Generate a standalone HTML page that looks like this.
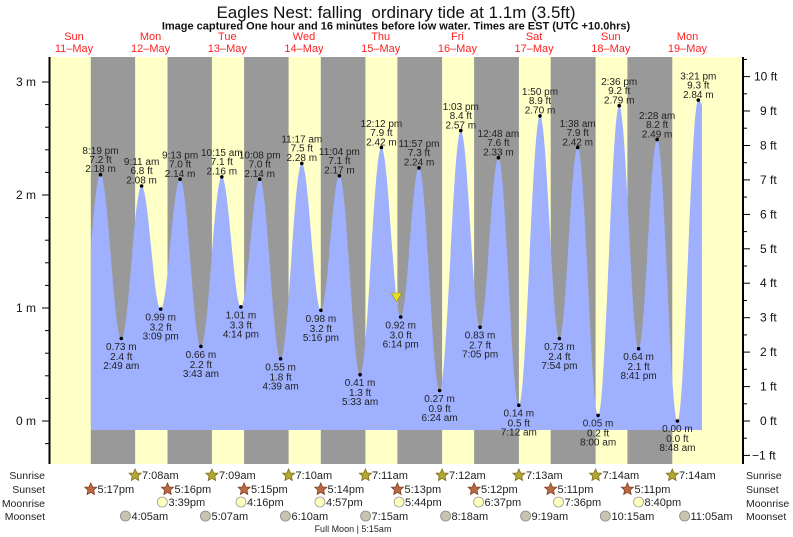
<!DOCTYPE html>
<html><head><meta charset="utf-8"><style>
html,body{margin:0;padding:0;background:#fff;}
svg{display:block;font-family:"Liberation Sans",sans-serif;}
.l{font-size:10px;fill:#222;text-anchor:middle}
.d{font-size:11px;fill:#ff2020;text-anchor:middle}
.a{font-size:12px;fill:#111}
.b{font-size:11px;fill:#222}
.r{font-size:10.5px;fill:#222}
</style></head><body>
<svg width="793" height="537" viewBox="0 0 793 537" xmlns="http://www.w3.org/2000/svg">
<rect width="793" height="537" fill="#fff"/>
<text x="396" y="18" text-anchor="middle" xml:space="preserve" style="font-size:17px;fill:#111">Eagles Nest: falling  ordinary tide at 1.1m (3.5ft)</text>
<text x="396" y="29.5" text-anchor="middle" style="font-size:11px;font-weight:bold;fill:#111">Image captured One hour and 16 minutes before low water. Times are EST (UTC +10.0hrs)</text>
<text class="d" x="74" y="40">Sun</text><text class="d" x="74" y="52">11–May</text>
<text class="d" x="150.6" y="40">Mon</text><text class="d" x="150.6" y="52">12–May</text>
<text class="d" x="227.3" y="40">Tue</text><text class="d" x="227.3" y="52">13–May</text>
<text class="d" x="304" y="40">Wed</text><text class="d" x="304" y="52">14–May</text>
<text class="d" x="380.7" y="40">Thu</text><text class="d" x="380.7" y="52">15–May</text>
<text class="d" x="457.4" y="40">Fri</text><text class="d" x="457.4" y="52">16–May</text>
<text class="d" x="534.1" y="40">Sat</text><text class="d" x="534.1" y="52">17–May</text>
<text class="d" x="610.8" y="40">Sun</text><text class="d" x="610.8" y="52">18–May</text>
<text class="d" x="687.5" y="40">Mon</text><text class="d" x="687.5" y="52">19–May</text>
<rect x="50" y="57" width="693" height="407" fill="#ffffc8"/>
<g fill="#999">
<rect x="90.8" y="57" width="44.3" height="407"/>
<rect x="167.5" y="57" width="44.4" height="407"/>
<rect x="244.1" y="57" width="44.5" height="407"/>
<rect x="320.8" y="57" width="44.6" height="407"/>
<rect x="397.4" y="57" width="44.7" height="407"/>
<rect x="474.1" y="57" width="44.8" height="407"/>
<rect x="550.7" y="57" width="44.9" height="407"/>
<rect x="627.4" y="57" width="44.9" height="407"/>
</g>
<path fill="#9fb0ff" d="M91,247 C94.5,205 96.9,174.7 100.5,174.7
C108,174.7 113.7,338.5 121.3,338.5
C128.7,338.5 134.2,186 141.6,186
C148.6,186 153.7,309.1 160.7,309.1
C167.8,309.1 173,179.2 180.1,179.2
C187.7,179.2 193.3,346.4 200.9,346.4
C208.5,346.4 214.2,176.9 221.8,176.9
C228.8,176.9 233.9,306.9 240.9,306.9
C247.7,306.9 252.9,179.2 259.7,179.2
C267.3,179.2 273,358.8 280.6,358.8
C288.3,358.8 294.1,163.4 301.8,163.4
C308.8,163.4 313.9,310.3 320.9,310.3
C327.6,310.3 332.7,175.8 339.4,175.8
C347,175.8 352.6,374.7 360.1,374.7
C367.9,374.7 373.6,147.5 381.4,147.5
C388.4,147.5 393.7,317 400.7,317
C407.4,317 412.3,167.9 419,167.9
C426.5,167.9 432.1,390.5 439.6,390.5
C447.3,390.5 453.1,130.6 460.8,130.6
C467.8,130.6 473.1,327.2 480.1,327.2
C486.8,327.2 491.7,157.7 498.4,157.7
C505.8,157.7 511.4,405.2 518.8,405.2
C526.5,405.2 532.3,115.9 540,115.9
C547.1,115.9 552.3,338.5 559.4,338.5
C566.1,338.5 571,147.5 577.7,147.5
C585.1,147.5 590.7,415.4 598.1,415.4
C605.8,415.4 611.5,105.7 619.2,105.7
C626.3,105.7 631.5,348.7 638.6,348.7
C645.3,348.7 650.4,139.6 657.1,139.6
C664.5,139.6 670,421 677.4,421
C685,421 690.7,100.1 698.3,100.1
C699.8,100.1 700.8,102 702,105
L702,430 L91,430 Z"/>
<g fill="#000">
<circle cx="100.5" cy="174.7" r="1.8"/><circle cx="121.3" cy="338.5" r="1.8"/><circle cx="141.6" cy="186" r="1.8"/><circle cx="160.7" cy="309.1" r="1.8"/><circle cx="180.1" cy="179.2" r="1.8"/><circle cx="200.9" cy="346.4" r="1.8"/><circle cx="221.8" cy="176.9" r="1.8"/><circle cx="240.9" cy="306.9" r="1.8"/><circle cx="259.7" cy="179.2" r="1.8"/><circle cx="280.6" cy="358.8" r="1.8"/><circle cx="301.8" cy="163.4" r="1.8"/><circle cx="320.9" cy="310.3" r="1.8"/><circle cx="339.4" cy="175.8" r="1.8"/><circle cx="360.1" cy="374.7" r="1.8"/><circle cx="381.4" cy="147.5" r="1.8"/><circle cx="400.7" cy="317" r="1.8"/><circle cx="419" cy="167.9" r="1.8"/><circle cx="439.6" cy="390.5" r="1.8"/><circle cx="460.8" cy="130.6" r="1.8"/><circle cx="480.1" cy="327.2" r="1.8"/><circle cx="498.4" cy="157.7" r="1.8"/><circle cx="518.8" cy="405.2" r="1.8"/><circle cx="540" cy="115.9" r="1.8"/><circle cx="559.4" cy="338.5" r="1.8"/><circle cx="577.7" cy="147.5" r="1.8"/><circle cx="598.1" cy="415.4" r="1.8"/><circle cx="619.2" cy="105.7" r="1.8"/><circle cx="638.6" cy="348.7" r="1.8"/><circle cx="657.1" cy="139.6" r="1.8"/><circle cx="677.4" cy="421" r="1.8"/><circle cx="698.3" cy="100.1" r="1.8"/>
</g>
<polygon points="391.5,293 401.5,293 396.5,302" fill="#e8e020" stroke="#a09010" stroke-width="0.6"/>
<g class="l">
<text x="100.5" y="154">8:19 pm</text><text x="100.5" y="163">7.2 ft</text><text x="100.5" y="172">2.18 m</text>
<text x="141.6" y="165">9:11 am</text><text x="141.6" y="174">6.8 ft</text><text x="141.6" y="183.5">2.08 m</text>
<text x="180.1" y="158.5">9:13 pm</text><text x="180.1" y="167.5">7.0 ft</text><text x="180.1" y="177">2.14 m</text>
<text x="221.8" y="156">10:15 am</text><text x="221.8" y="165">7.1 ft</text><text x="221.8" y="174.5">2.16 m</text>
<text x="259.7" y="158.5">10:08 pm</text><text x="259.7" y="167.5">7.0 ft</text><text x="259.7" y="177">2.14 m</text>
<text x="301.8" y="142.5">11:17 am</text><text x="301.8" y="151.5">7.5 ft</text><text x="301.8" y="161">2.28 m</text>
<text x="339.4" y="155">11:04 pm</text><text x="339.4" y="164">7.1 ft</text><text x="339.4" y="173.5">2.17 m</text>
<text x="381.4" y="127">12:12 pm</text><text x="381.4" y="136">7.9 ft</text><text x="381.4" y="145.5">2.42 m</text>
<text x="419" y="147">11:57 pm</text><text x="419" y="156">7.3 ft</text><text x="419" y="165.5">2.24 m</text>
<text x="460.8" y="110">1:03 pm</text><text x="460.8" y="119">8.4 ft</text><text x="460.8" y="128.5">2.57 m</text>
<text x="498.4" y="137">12:48 am</text><text x="498.4" y="146">7.6 ft</text><text x="498.4" y="155.5">2.33 m</text>
<text x="540" y="95">1:50 pm</text><text x="540" y="104">8.9 ft</text><text x="540" y="113.5">2.70 m</text>
<text x="577.7" y="127">1:38 am</text><text x="577.7" y="136">7.9 ft</text><text x="577.7" y="145.5">2.42 m</text>
<text x="619.2" y="85">2:36 pm</text><text x="619.2" y="94">9.2 ft</text><text x="619.2" y="103.5">2.79 m</text>
<text x="657.1" y="119">2:28 am</text><text x="657.1" y="128">8.2 ft</text><text x="657.1" y="137.5">2.49 m</text>
<text x="698.3" y="79.5">3:21 pm</text><text x="698.3" y="88.5">9.3 ft</text><text x="698.3" y="98">2.84 m</text>
</g>
<g class="l">
<text x="121.3" y="350">0.73 m</text><text x="121.3" y="360">2.4 ft</text><text x="121.3" y="369">2:49 am</text>
<text x="160.7" y="320.5">0.99 m</text><text x="160.7" y="330.5">3.2 ft</text><text x="160.7" y="339.5">3:09 pm</text>
<text x="200.9" y="358">0.66 m</text><text x="200.9" y="368">2.2 ft</text><text x="200.9" y="377">3:43 am</text>
<text x="240.9" y="318.5">1.01 m</text><text x="240.9" y="328.5">3.3 ft</text><text x="240.9" y="337.5">4:14 pm</text>
<text x="280.6" y="370.5">0.55 m</text><text x="280.6" y="380.5">1.8 ft</text><text x="280.6" y="389.5">4:39 am</text>
<text x="320.9" y="322">0.98 m</text><text x="320.9" y="332">3.2 ft</text><text x="320.9" y="341">5:16 pm</text>
<text x="360.1" y="386">0.41 m</text><text x="360.1" y="396">1.3 ft</text><text x="360.1" y="405">5:33 am</text>
<text x="400.7" y="328.5">0.92 m</text><text x="400.7" y="338.5">3.0 ft</text><text x="400.7" y="347.5">6:14 pm</text>
<text x="439.6" y="402">0.27 m</text><text x="439.6" y="412">0.9 ft</text><text x="439.6" y="421">6:24 am</text>
<text x="480.1" y="338.5">0.83 m</text><text x="480.1" y="348.5">2.7 ft</text><text x="480.1" y="357.5">7:05 pm</text>
<text x="518.8" y="416.5">0.14 m</text><text x="518.8" y="426.5">0.5 ft</text><text x="518.8" y="435.5">7:12 am</text>
<text x="559.4" y="350">0.73 m</text><text x="559.4" y="360">2.4 ft</text><text x="559.4" y="369">7:54 pm</text>
<text x="598.1" y="426.5">0.05 m</text><text x="598.1" y="436.5">0.2 ft</text><text x="598.1" y="445.5">8:00 am</text>
<text x="638.6" y="360">0.64 m</text><text x="638.6" y="370">2.1 ft</text><text x="638.6" y="379">8:41 pm</text>
<text x="677.4" y="432">0.00 m</text><text x="677.4" y="442">0.0 ft</text><text x="677.4" y="451">8:48 am</text>
</g>
<line x1="49.5" y1="57" x2="49.5" y2="464" stroke="#000" stroke-width="2"/>
<line x1="743" y1="57" x2="743" y2="464" stroke="#000" stroke-width="2"/>
<g stroke="#000" stroke-width="1">
<line x1="42" y1="82" x2="49" y2="82"/><line x1="42" y1="195" x2="49" y2="195"/><line x1="42" y1="308" x2="49" y2="308"/><line x1="42" y1="421" x2="49" y2="421"/>
<line x1="45" y1="104.6" x2="49" y2="104.6"/><line x1="45" y1="127.2" x2="49" y2="127.2"/><line x1="45" y1="149.8" x2="49" y2="149.8"/><line x1="45" y1="172.4" x2="49" y2="172.4"/>
<line x1="45" y1="217.6" x2="49" y2="217.6"/><line x1="45" y1="240.2" x2="49" y2="240.2"/><line x1="45" y1="262.8" x2="49" y2="262.8"/><line x1="45" y1="285.4" x2="49" y2="285.4"/>
<line x1="45" y1="330.6" x2="49" y2="330.6"/><line x1="45" y1="353.2" x2="49" y2="353.2"/><line x1="45" y1="375.8" x2="49" y2="375.8"/><line x1="45" y1="398.4" x2="49" y2="398.4"/>
<line x1="45" y1="443.6" x2="49" y2="443.6"/>
<line x1="744" y1="76.6" x2="750" y2="76.6"/><line x1="744" y1="111" x2="750" y2="111"/><line x1="744" y1="145.5" x2="750" y2="145.5"/><line x1="744" y1="179.9" x2="750" y2="179.9"/><line x1="744" y1="214.4" x2="750" y2="214.4"/><line x1="744" y1="248.8" x2="750" y2="248.8"/><line x1="744" y1="283.2" x2="750" y2="283.2"/><line x1="744" y1="317.7" x2="750" y2="317.7"/><line x1="744" y1="352.1" x2="750" y2="352.1"/><line x1="744" y1="386.6" x2="750" y2="386.6"/><line x1="744" y1="421" x2="750" y2="421"/><line x1="744" y1="455.4" x2="750" y2="455.4"/>
<line x1="744" y1="93.8" x2="747" y2="93.8"/><line x1="744" y1="128.2" x2="747" y2="128.2"/><line x1="744" y1="162.7" x2="747" y2="162.7"/><line x1="744" y1="197.1" x2="747" y2="197.1"/><line x1="744" y1="231.6" x2="747" y2="231.6"/><line x1="744" y1="266" x2="747" y2="266"/><line x1="744" y1="300.5" x2="747" y2="300.5"/><line x1="744" y1="334.9" x2="747" y2="334.9"/><line x1="744" y1="369.3" x2="747" y2="369.3"/><line x1="744" y1="403.8" x2="747" y2="403.8"/><line x1="744" y1="438.2" x2="747" y2="438.2"/><line x1="744" y1="59.4" x2="747" y2="59.4"/>
</g>
<g class="a" text-anchor="end">
<text x="36" y="86">3 m</text><text x="36" y="199">2 m</text><text x="36" y="312">1 m</text><text x="36" y="425">0 m</text>
</g>
<g class="a">
<text x="754" y="80.6">10 ft</text><text x="760" y="115">9 ft</text><text x="760" y="149.5">8 ft</text><text x="760" y="183.9">7 ft</text><text x="760" y="218.4">6 ft</text><text x="760" y="252.8">5 ft</text><text x="760" y="287.2">4 ft</text><text x="760" y="321.7">3 ft</text><text x="760" y="356.1">2 ft</text><text x="760" y="390.6">1 ft</text><text x="760" y="425">0 ft</text><text x="752" y="459.4">−1 ft</text>
</g>
<g class="r" text-anchor="end">
<text x="45" y="479">Sunrise</text><text x="45" y="493">Sunset</text><text x="45" y="507">Moonrise</text><text x="45" y="520">Moonset</text>
</g>
<g class="r">
<text x="746" y="479">Sunrise</text><text x="746" y="493">Sunset</text><text x="746" y="507">Moonrise</text><text x="746" y="520">Moonset</text>
</g>
<defs>
<polygon id="st" points="0,-6 1.8,-2 6,-1.8 2.9,1.1 3.7,5.5 0,3.3 -3.7,5.5 -2.9,1.1 -6,-1.8 -1.8,-2"/>
</defs>
<g fill="#b0a830" stroke="#806a20" stroke-width="0.8">
<use href="#st" x="135.1" y="475"/><use href="#st" x="211.9" y="475"/><use href="#st" x="288.6" y="475"/><use href="#st" x="365.4" y="475"/><use href="#st" x="442.1" y="475"/><use href="#st" x="518.9" y="475"/><use href="#st" x="595.6" y="475"/><use href="#st" x="672.3" y="475"/>
</g>
<g fill="#b86a48" stroke="#804020" stroke-width="0.8">
<use href="#st" x="90.8" y="489"/><use href="#st" x="167.5" y="489"/><use href="#st" x="244.1" y="489"/><use href="#st" x="320.8" y="489"/><use href="#st" x="397.4" y="489"/><use href="#st" x="474.1" y="489"/><use href="#st" x="550.7" y="489"/><use href="#st" x="627.4" y="489"/>
</g>
<g fill="#ffffc0" stroke="#999" stroke-width="0.8">
<circle cx="162.3" cy="502" r="5"/><circle cx="241" cy="502" r="5"/><circle cx="319.9" cy="502" r="5"/><circle cx="399.1" cy="502" r="5"/><circle cx="478.6" cy="502" r="5"/><circle cx="558.5" cy="502" r="5"/><circle cx="638.6" cy="502" r="5"/>
</g>
<g fill="#c8c4b0" stroke="#888" stroke-width="0.8">
<circle cx="125.4" cy="516" r="5"/><circle cx="205.4" cy="516" r="5"/><circle cx="285.4" cy="516" r="5"/><circle cx="365.6" cy="516" r="5"/><circle cx="445.6" cy="516" r="5"/><circle cx="525.6" cy="516" r="5"/><circle cx="605.3" cy="516" r="5"/><circle cx="684.6" cy="516" r="5"/>
</g>
<g class="b">
<text x="142" y="479">7:08am</text><text x="219" y="479">7:09am</text><text x="295.5" y="479">7:10am</text><text x="372" y="479">7:11am</text><text x="449" y="479">7:12am</text><text x="526" y="479">7:13am</text><text x="602.5" y="479">7:14am</text><text x="679" y="479">7:14am</text>
<text x="97.5" y="493">5:17pm</text><text x="174.5" y="493">5:16pm</text><text x="251" y="493">5:15pm</text><text x="327.5" y="493">5:14pm</text><text x="404.5" y="493">5:13pm</text><text x="481" y="493">5:12pm</text><text x="557.5" y="493">5:11pm</text><text x="634.5" y="493">5:11pm</text>
<text x="168.5" y="506">3:39pm</text><text x="247" y="506">4:16pm</text><text x="326" y="506">4:57pm</text><text x="405" y="506">5:44pm</text><text x="484.5" y="506">6:37pm</text><text x="564.5" y="506">7:36pm</text><text x="644.5" y="506">8:40pm</text>
<text x="131.5" y="520">4:05am</text><text x="211.5" y="520">5:07am</text><text x="291.5" y="520">6:10am</text><text x="371.5" y="520">7:15am</text><text x="451.5" y="520">8:18am</text><text x="531.5" y="520">9:19am</text><text x="611.5" y="520">10:15am</text><text x="690.5" y="520">11:05am</text>
</g>
<text x="353" y="532" text-anchor="middle" style="font-size:9px;fill:#222">Full Moon | 5:15am</text>
</svg>
</body></html>
